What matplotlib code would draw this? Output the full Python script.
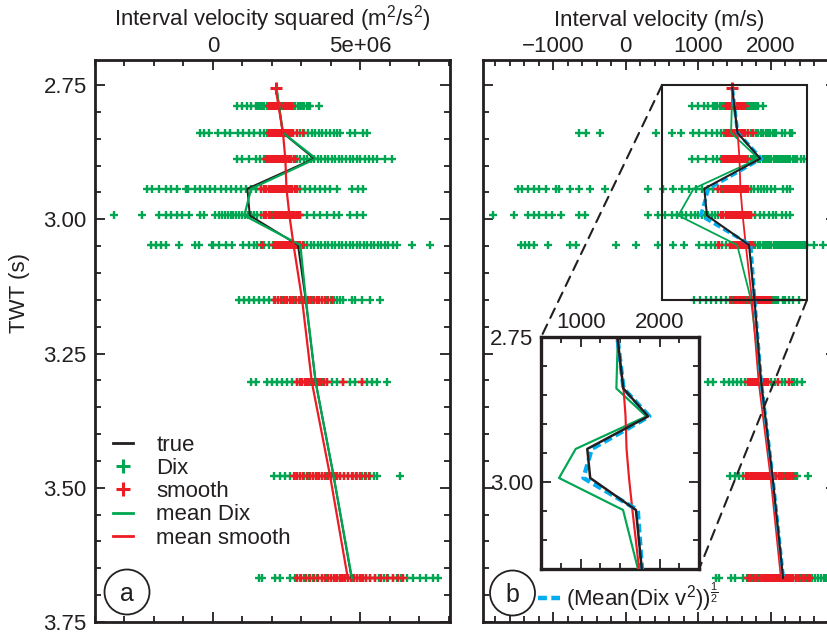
import numpy as np
import matplotlib
matplotlib.use('Agg')
import matplotlib.pyplot as plt
from matplotlib.patches import Rectangle, Circle, ConnectionPatch
from matplotlib.lines import Line2D
from matplotlib.ticker import MultipleLocator, FixedLocator

plt.rcParams['font.family'] = ['Liberation Sans', 'DejaVu Sans']
plt.rcParams['mathtext.fontset'] = 'custom'
plt.rcParams['mathtext.rm'] = 'Liberation Sans'
plt.rcParams['mathtext.it'] = 'Liberation Sans:italic'
plt.rcParams['mathtext.bf'] = 'Liberation Sans:bold'

INK = '#231F20'
GREEN = '#00A651'
RED = '#ED1C24'
BLUE = '#00AEEF'

# ---------------- data ----------------
# layer times (s) of the scatter rows
row_t = [2.789, 2.839, 2.888, 2.944, 2.992, 3.048, 3.150, 3.303, 3.478, 3.668]

# Dix interval velocity squared samples (units of 1e6 m^2/s^2), one list per row
dix_2789 = [0.83, 0.99, 1.16, 1.29, 1.45, 1.52, 1.60, 1.68, 1.75, 1.83, 1.90, 1.98, 2.05, 2.13, 2.20,
            2.28, 2.35, 2.43, 2.50, 2.58, 2.65, 2.73, 2.80, 2.88, 2.95, 3.03, 3.10, 3.18, 3.25, 3.31, 3.59]
dix_2839 = [-0.42, -0.30, -0.13, 0.17, 0.40, 0.58, 0.85, 1.03, 1.22, 1.41, 1.59, 1.73, 1.85, 1.97, 2.10,
            2.22, 2.35, 2.47, 2.60, 2.72, 2.85, 2.97, 3.10, 3.22, 3.35, 3.47, 3.60, 3.72, 3.85, 3.97, 4.10,
            4.22, 4.32, 4.66, 4.83, 5.11, 5.23]
dix_2888 = [0.83, 0.99, 1.22, 1.45, 1.59, 1.73, 1.85, 1.95, 2.05, 2.15, 2.25, 2.35, 2.45, 2.55, 2.65,
            2.75, 2.85, 2.97, 3.08, 3.20, 3.32, 3.44, 3.56, 3.68, 3.80, 3.92, 4.04, 4.16, 4.28, 4.40,
            4.52, 4.64, 4.76, 4.88, 5.00, 5.15, 5.30, 5.45, 5.56, 5.85, 6.07]
dix_2944 = [-2.22, -2.05, -1.83, -1.60, -1.43, -1.21, -0.92, -0.85, -0.59, -0.42, -0.25, -0.08, 0.09,
            0.26, 0.43, 0.60, 0.77, 0.94, 1.11, 1.28, 1.45, 1.62, 1.80, 1.98, 2.16, 2.34, 2.52, 2.70,
            2.86, 2.97, 3.14, 3.31, 3.48, 3.65, 3.82, 3.99, 4.21, 4.72, 4.94, 5.11]
dix_2992 = [-3.35, -2.39, -1.83, -1.60, -1.43, -1.21, -1.04, -0.81, -0.42, -0.31, 0.09, 0.20, 0.30,
            0.40, 0.50, 0.60, 0.70, 0.80, 0.90, 1.00, 1.10, 1.20, 1.30, 1.40, 1.50, 1.62, 1.75, 1.90,
            2.05, 2.20, 2.35, 2.50, 2.65, 2.80, 2.97, 3.20, 3.42, 3.65, 3.88, 4.10, 4.27, 4.66, 4.89, 5.11]
dix_3048 = [-2.11, -1.94, -1.77, -1.60, -1.15, -0.59, -0.47, -0.02, 0.02, 0.20, 0.43, 0.65, 1.03, 1.22,
            1.39, 1.50, 1.62, 1.75, 1.90, 2.05, 2.20, 2.35, 2.50, 2.65, 2.80, 2.97, 3.08, 3.20, 3.32,
            3.44, 3.56, 3.68, 3.80, 3.92, 4.04, 4.16, 4.28, 4.40, 4.52, 4.64, 4.76, 4.88, 5.00, 5.12,
            5.24, 5.36, 5.48, 5.60, 5.72, 5.84, 5.96, 6.10, 6.24, 6.75, 7.37]
dix_3150 = [0.88, 1.05, 1.22, 1.39, 1.56, 1.73, 1.90, 2.07, 2.20, 2.35, 2.50, 2.65, 2.80, 2.95, 3.10,
            3.25, 3.40, 3.55, 3.70, 3.85, 4.00, 4.10, 4.21, 4.32, 4.43, 4.72, 4.83, 5.06, 5.34, 5.68]
dix_3303 = [1.28, 1.45, 1.84, 2.01, 2.18, 2.35, 2.52, 2.69, 2.86, 3.00, 3.15, 3.30, 3.45, 3.60, 3.75,
            3.87, 4.04, 4.21, 4.43, 4.66, 4.83, 5.06, 5.23, 5.40, 5.57, 5.91]
dix_3478 = [2.07, 2.29, 2.46, 2.63, 2.80, 2.95, 3.10, 3.25, 3.40, 3.55, 3.70, 3.85, 4.00, 4.15, 4.30,
            4.45, 4.60, 4.75, 4.90, 5.05, 5.20, 5.35, 5.46, 5.57, 6.35]
dix_3668 = [1.56, 1.67, 2.12, 2.29, 2.63, 2.80, 2.95, 3.10, 3.25, 3.40, 3.55, 3.70, 3.85, 4.00, 4.15,
            4.30, 4.45, 4.60, 4.75, 4.90, 5.05, 5.20, 5.35, 5.50, 5.65, 5.80, 5.95, 6.10, 6.25, 6.40,
            6.58, 6.80, 7.02, 7.24, 7.46, 7.65]

# smoothed interval velocity squared samples (units of 1e6 m^2/s^2)
smooth_top_t = 2.756
smooth_top = [2.13]
smooth_2789 = [1.90, 1.98, 2.05, 2.12, 2.18, 2.25, 2.32, 2.40, 2.48, 2.56, 2.63, 2.69]
smooth_2839 = [1.90, 1.97, 2.04, 2.10, 2.16, 2.22, 2.28, 2.34, 2.40, 2.46, 2.52, 2.58, 2.65, 2.72, 2.86, 3.07]
smooth_2888 = [1.79, 1.86, 1.93, 2.00, 2.07, 2.14, 2.21, 2.28, 2.35, 2.42, 2.50, 2.58, 2.66, 2.74, 2.80]
smooth_2944 = [1.62, 1.72, 1.82, 1.90, 1.97, 2.04, 2.10, 2.16, 2.22, 2.28, 2.34, 2.40, 2.46, 2.52, 2.58,
               2.64, 2.70, 2.78, 2.86]
smooth_2992 = [1.73, 1.79, 1.90, 1.98, 2.06, 2.13, 2.20, 2.27, 2.34, 2.41, 2.48, 2.55, 2.62, 2.69, 2.76,
               2.84, 2.92, 2.97]
smooth_3048 = [1.67, 2.06, 2.12, 2.18, 2.24, 2.30, 2.36, 2.42, 2.48, 2.54, 2.60, 2.66, 2.72, 2.78, 2.84,
               2.90, 2.97, 3.05]
smooth_3150 = [2.12, 2.22, 2.32, 2.42, 2.52, 2.62, 2.72, 2.82, 2.92, 3.02, 3.12, 3.22, 3.32, 3.42, 3.52,
               3.62, 3.72, 3.82, 3.92, 4.04]
smooth_3303 = [2.86, 2.95, 3.04, 3.12, 3.20, 3.28, 3.36, 3.44, 3.52, 3.60, 3.68, 3.76, 3.87, 4.43, 5.06]
smooth_3478 = [2.74, 2.85, 2.96, 3.07, 3.18, 3.29, 3.40, 3.50, 3.60, 3.70, 3.80, 3.90, 4.00, 4.10, 4.20,
               4.32, 4.45, 4.58, 4.72, 4.86, 5.00, 5.15, 5.29]
smooth_3668 = [2.86, 3.00, 3.15, 3.30, 3.45, 3.58, 3.70, 3.80, 3.90, 4.00, 4.10, 4.20, 4.30, 4.40, 4.50,
               4.60, 4.70, 4.80, 4.90, 5.00, 5.10, 5.20, 5.35, 5.50, 5.70, 5.90, 6.10, 6.30, 6.47]

dix_rows = [dix_2789, dix_2839, dix_2888, dix_2944, dix_2992, dix_3048, dix_3150, dix_3303, dix_3478, dix_3668]
smooth_rows = [smooth_2789, smooth_2839, smooth_2888, smooth_2944, smooth_2992, smooth_3048,
               smooth_3150, smooth_3303, smooth_3478, smooth_3668]

# curve samples
line_t = [2.756, 2.839, 2.887, 2.943, 2.993, 3.048, 3.150, 3.303, 3.478, 3.668]
true_v = [1470, 1540, 1855, 1083, 1120, 1700, 1775, 1868, 2024, 2170]            # m/s
mean_dix_v2 = [2.16, 2.38, 3.50, 1.30, 1.07, 2.97, 3.16, 3.49, 4.10, 4.72]       # 1e6 m^2/s^2
mean_smooth_v2 = [2.13, 2.38, 2.46, 2.50, 2.60, 2.74, 3.03, 3.36, 3.98, 4.58]    # 1e6 m^2/s^2
mean_dix_v = [1470, 1452, 1832, 936, 725, 1537, 1727, 1860, 2018, 2165]           # m/s

# ---------------- figure ----------------
W, H = 827, 634
fig = plt.figure(figsize=(W / 100, H / 100), dpi=100)


def px_axes(l, t, r, b):
    return fig.add_axes([l / W, 1 - b / H, (r - l) / W, (b - t) / H])


ax_a = px_axes(95, 60, 450, 622)
ax_b = px_axes(483, 60, 836, 622)
ax_in = px_axes(541.3, 336.7, 699, 569.3)


def style(ax, lw=2.0):
    for s in ax.spines.values():
        s.set_linewidth(lw)
        s.set_color(INK)
    ax.tick_params(which='both', direction='in', top=True, bottom=True, left=True, right=True,
                   labeltop=True, labelbottom=False, color=INK, labelcolor=INK, labelsize=16, width=1.3)
    ax.tick_params(which='major', length=7)
    ax.tick_params(axis='y', which='major', pad=6)
    ax.tick_params(axis='x', which='major', pad=2.5)
    ax.tick_params(which='minor', length=4)


def ssqrt(vals):
    a = np.asarray(vals, dtype=float)
    return np.sign(a) * np.sqrt(np.abs(a)) * 1000.0


MS, MEW = 6, 1.7

# ---- panel a ----
style(ax_a)
for t, d in zip(row_t, dix_rows):
    ax_a.plot(np.asarray(d) * 1e6, [t] * len(d), '+', color=GREEN, ms=MS, mew=MEW, zorder=2)
for t, s in zip(row_t, smooth_rows):
    ax_a.plot(np.asarray(s) * 1e6, [t] * len(s), '+', color=RED, ms=MS, mew=MEW, zorder=3)
ax_a.plot(np.asarray(smooth_top) * 1e6, [smooth_top_t], '+', color=RED, ms=MS + 2, mew=MEW + 0.5, zorder=3)
ax_a.plot((np.asarray(true_v) ** 2), line_t, color=INK, lw=1.4, zorder=4)
ax_a.plot(np.asarray(mean_dix_v2) * 1e6, line_t, color=GREEN, lw=1.6, zorder=5)
ax_a.plot(np.asarray(mean_smooth_v2) * 1e6, line_t, color=RED, lw=1.6, zorder=6)

ax_a.set_xlim(-4e6, 8.05e6)
ax_a.set_ylim(3.75, 2.7034)
ax_a.xaxis.set_major_locator(FixedLocator([0, 5e6]))
ax_a.set_xticklabels(['0', '5e+06'])
ax_a.xaxis.set_minor_locator(MultipleLocator(1e6))
ax_a.yaxis.set_major_locator(FixedLocator([2.75, 3.0, 3.25, 3.5, 3.75]))
ax_a.set_yticklabels(['2.75', '3.00', '3.25', '3.50', '3.75'])
ax_a.yaxis.set_minor_locator(MultipleLocator(0.05))
ax_a.xaxis.set_label_position('top')
ax_a.set_xlabel(r'Interval velocity squared (m$^2$/s$^2$)', fontsize=16, color=INK, labelpad=7)
ax_a.set_ylabel('TWT (s)', fontsize=16, color=INK)
ax_a.yaxis.set_label_coords(-0.183, 0.585)

handles = [Line2D([], [], color=INK, lw=2),
           Line2D([], [], color=GREEN, marker='+', ls='none', ms=10, mew=2.2),
           Line2D([], [], color=RED, marker='+', ls='none', ms=10, mew=2.2),
           Line2D([], [], color=GREEN, lw=2),
           Line2D([], [], color=RED, lw=2)]
ax_a.legend(handles, ['true', 'Dix', 'smooth', 'mean Dix', 'mean smooth'], loc='center left',
            bbox_to_anchor=(0.0507, 0.232), frameon=False, fontsize=16, handlelength=0.9,
            handletextpad=1.05, labelspacing=0.1, borderpad=0, borderaxespad=0, labelcolor=INK)

# ---- panel b ----
style(ax_b)
for t, d in zip(row_t, dix_rows):
    ax_b.plot(ssqrt(d), [t] * len(d), '+', color=GREEN, ms=MS, mew=MEW, zorder=2)
for t, s in zip(row_t, smooth_rows):
    ax_b.plot(ssqrt(s), [t] * len(s), '+', color=RED, ms=MS, mew=MEW, zorder=3)
ax_b.plot(ssqrt(smooth_top), [smooth_top_t], '+', color=RED, ms=MS + 2, mew=MEW + 0.5, zorder=3)


def draw_lines(ax, k=1.0):
    ax.plot(mean_dix_v, line_t, color=GREEN, lw=1.3 * k, zorder=4)
    ax.plot(ssqrt(mean_smooth_v2), line_t, color=RED, lw=1.3 * k, zorder=5)
    bl, = ax.plot(ssqrt(mean_dix_v2), line_t, color=BLUE, lw=2.6 * k, zorder=6)
    bl.set_dashes((2.0, 1.0))
    ax.plot(true_v, line_t, color=INK, lw=1.5 * k, zorder=7)
    return bl


blue_line = draw_lines(ax_b)
ax_b.add_patch(Rectangle((500, 2.75), 2000, 0.40, fill=False, ec=INK, lw=1.5, zorder=8))

ax_b.set_xlim(-1970, 2900)
ax_b.set_ylim(3.75, 2.7034)
ax_b.xaxis.set_major_locator(FixedLocator([-1000, 0, 1000, 2000]))
ax_b.set_xticklabels(['\u22121000', '0', '1000', '2000'])
ax_b.xaxis.set_minor_locator(MultipleLocator(200))
ax_b.yaxis.set_major_locator(FixedLocator([2.75, 3.0, 3.25, 3.5, 3.75]))
ax_b.yaxis.set_minor_locator(MultipleLocator(0.05))
ax_b.tick_params(labelleft=False)
ax_b.xaxis.set_label_position('top')
ax_b.set_xlabel('Interval velocity (m/s)', fontsize=16, color=INK, labelpad=7)

leg_b_handle = Line2D([], [], color=BLUE, lw=3.2, dashes=(2.0, 1.0))
ax_b.legend([leg_b_handle], [r'(Mean(Dix v$^2$))$^{\frac{1}{2}}$'], loc='center left',
            bbox_to_anchor=(0.156, 0.0445), frameon=False, fontsize=16, handlelength=1.0,
            handletextpad=0.25, borderpad=0, borderaxespad=0, labelcolor=INK)

# ---- inset ----
style(ax_in, lw=2.4)
ax_in.set_facecolor('white')
ax_in.tick_params(labelright=False)
ax_in.tick_params(axis='x', which='major', pad=3)
ax_in.tick_params(axis='y', which='major', pad=6)
draw_lines(ax_in, k=1.2)
ax_in.set_xlim(500, 2500)
ax_in.set_ylim(3.15, 2.75)
ax_in.xaxis.set_major_locator(FixedLocator([1000, 2000]))
ax_in.set_xticklabels(['1000', '2000'])
ax_in.xaxis.set_minor_locator(MultipleLocator(250))
ax_in.yaxis.set_major_locator(FixedLocator([2.75, 3.0]))
ax_in.set_yticklabels(['2.75', '3.00'])
ax_in.yaxis.set_minor_locator(MultipleLocator(0.05))

# zoom connectors
for xyA, xyB in [((500, 2.75), (0, 1)), ((2500, 3.15), (1, 0))]:
    con = ConnectionPatch(xyA=xyA, coordsA=ax_b.transData, xyB=xyB, coordsB=ax_in.transAxes,
                          color=INK, lw=1.5, linestyle=(0, (5, 3.5)), zorder=10)
    fig.add_artist(con)

# panel letters
for cx, cy, letter in [(127, 592, 'a'), (512.5, 593, 'b')]:
    circ = Circle((cx / 100, (H - cy) / 100), 0.225, transform=fig.dpi_scale_trans,
                  fill=False, ec=INK, lw=1.3)
    fig.add_artist(circ)
    fig.text(cx / W, 1 - (cy + 2) / H, letter, ha='center', va='center', fontsize=18, color=INK)

fig.savefig('out.png', dpi=100)
